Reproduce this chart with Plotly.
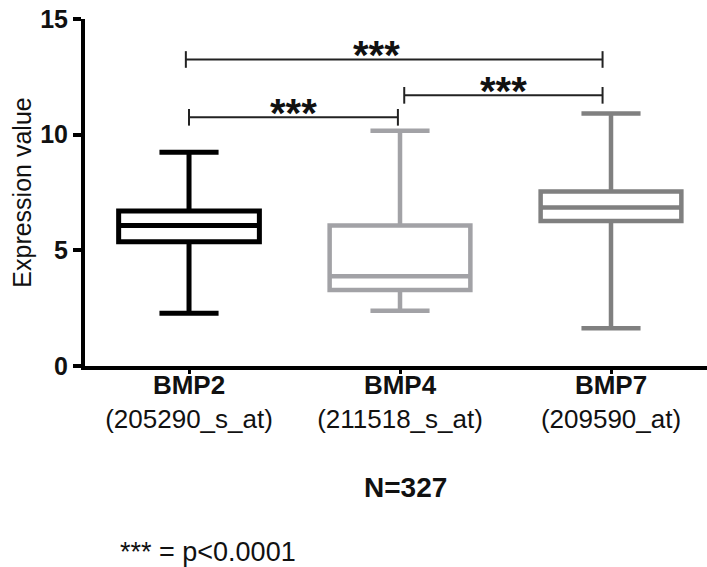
import plotly.graph_objects as go

# Summary statistics per probe set (min, Q1, median, Q3, max)
genes = ["BMP2", "BMP4", "BMP7"]
probes = ["(205290_s_at)", "(211518_s_at)", "(209590_at)"]
positions = [0, 1, 2]
lower = [2.28, 2.39, 1.63]
q1 = [5.37, 3.29, 6.27]
median = [6.07, 3.88, 6.85]
q3 = [6.70, 6.07, 7.54]
upper = [9.24, 10.17, 10.92]
colors = ["#000000", "#A2A2A6", "#808080"]

# Significance brackets between groups, with their star labels
bracket_start = [0.0, 1.02, -0.015]
bracket_end = [0.99, 1.96, 1.96]
bracket_y = [10.75, 11.7, 13.25]
bracket_label = ["***", "***", "***"]
label_x = [0.495, 1.49, 0.89]

y_ticks = [0, 5, 10, 15]
sample_note = "N=327"
legend_note = "*** = p<0.0001"

FONT = "Liberation Sans, Arial, sans-serif"

fig = go.Figure()

for i in range(len(genes)):
    fig.add_trace(go.Box(
        x=[positions[i]],
        q1=[q1[i]], median=[median[i]], q3=[q3[i]],
        lowerfence=[lower[i]], upperfence=[upper[i]],
        width=0.667, whiskerwidth=0.42,
        line=dict(color=colors[i], width=5 if i == 0 else 4.5),
        fillcolor="white",
        boxpoints=False,
        showlegend=False,
        hoverinfo="skip",
    ))

shapes = []
annotations = []
cap = 0.36
for xs, xe, yv, lab, lx in zip(bracket_start, bracket_end, bracket_y, bracket_label, label_x):
    line = dict(color="#222222", width=2)
    shapes.append(dict(type="line", xref="x", yref="y", x0=xs, x1=xe, y0=yv, y1=yv, line=line))
    shapes.append(dict(type="line", xref="x", yref="y", x0=xs, x1=xs, y0=yv - cap, y1=yv + cap, line=line))
    shapes.append(dict(type="line", xref="x", yref="y", x0=xe, x1=xe, y0=yv - cap, y1=yv + cap, line=line))
    annotations.append(dict(
        x=lx, y=yv + 0.2, xref="x", yref="y",
        text="<b>%s</b>" % lab, showarrow=False,
        xanchor="center", yanchor="middle",
        font=dict(family=FONT, size=40, color="#111111"),
    ))

annotations.append(dict(
    x=0.516, y=-0.35, xref="paper", yref="paper", text="<b>%s</b>" % sample_note,
    showarrow=False, xanchor="center", yanchor="middle",
    font=dict(family=FONT, size=28, color="#111111"),
))
annotations.append(dict(
    x=0.053, y=-0.536, xref="paper", yref="paper", text=legend_note,
    showarrow=False, xanchor="left", yanchor="middle",
    font=dict(family=FONT, size=27, color="#111111"),
))

# Category labels: gene name (bold) over its probe set ID
tick_text = ["<b>%s</b><br>%s" % (g, p) for g, p in zip(genes, probes)]

fig.update_layout(
    width=707, height=567,
    margin=dict(l=85, r=0, t=19, b=201),
    paper_bgcolor="white", plot_bgcolor="white",
    font=dict(family=FONT, color="#111111"),
    shapes=shapes, annotations=annotations,
    boxmode="overlay",
)
fig.update_xaxes(
    range=[-0.493, 2.455], tickvals=positions, ticktext=tick_text,
    tickfont=dict(family=FONT, size=26, color="#111111"),
    showline=True, linecolor="black", linewidth=4,
    ticks="outside", ticklen=4, tickwidth=3, tickcolor="black",
    ticklabelstandoff=-11,
    showgrid=False, zeroline=False,
)
fig.update_yaxes(
    range=[0, 15], tickvals=y_ticks, ticktext=[str(v) for v in y_ticks],
    tickfont=dict(family=FONT, size=25, weight="bold", color="#111111"),
    showline=True, linecolor="black", linewidth=4,
    ticks="outside", ticklen=8, tickwidth=4, tickcolor="black",
    showgrid=False, zeroline=False,
    title=dict(text="Expression value", font=dict(family=FONT, size=25, color="#111111"), standoff=2),
)

fig.write_html("out.html")
